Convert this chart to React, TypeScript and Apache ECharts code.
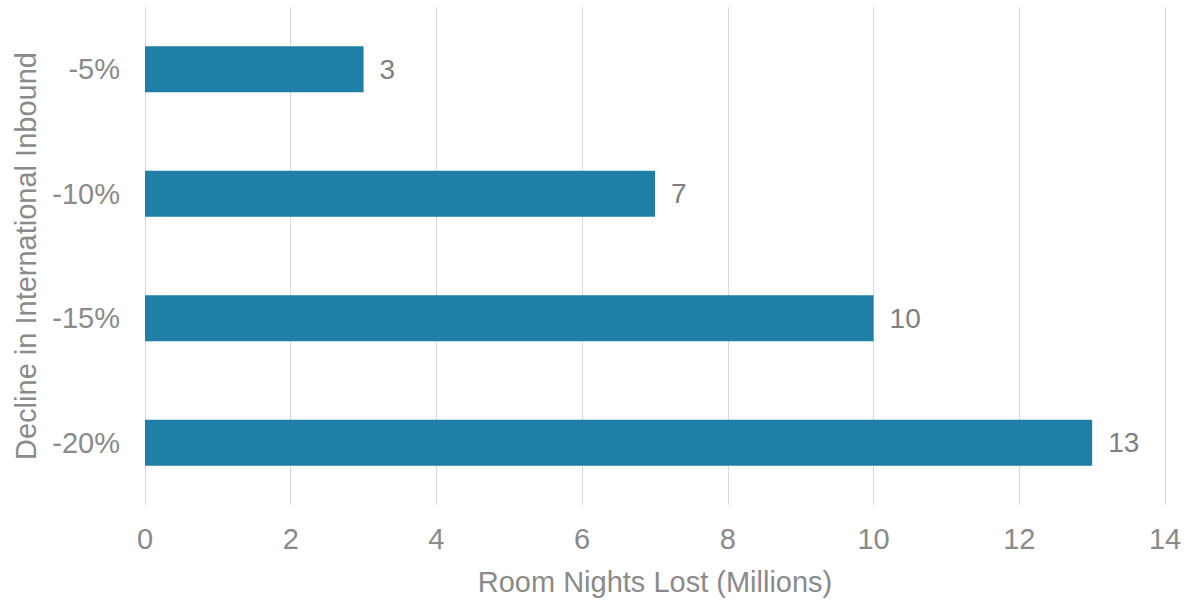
import React, { useEffect, useRef } from "react";
import * as echarts from "echarts";

const categories = ["-5%", "-10%", "-15%", "-20%"];
const values = [3, 7, 10, 13];
const xTicks = { min: 0, max: 14, interval: 2 };

export default function App() {
  const ref = useRef<HTMLDivElement>(null);
  useEffect(() => {
    const chart = echarts.init(ref.current!, null, { renderer: "svg" });
    const font = "Liberation Sans, Arial, sans-serif";
    chart.setOption({
      animation: false,
      grid: { left: 145, right: 26, top: 7, bottom: 94 },
      xAxis: {
        type: "value",
        min: xTicks.min,
        max: xTicks.max,
        interval: xTicks.interval,
        name: "Room Nights Lost (Millions)",
        nameLocation: "middle",
        nameGap: 62,
        nameTextStyle: { color: "#8a8a8a", fontSize: 29, fontFamily: font },
        axisLine: { show: false },
        axisTick: { show: false },
        axisLabel: { color: "#8a8a8a", fontSize: 29, fontFamily: font, margin: 19 },
        splitLine: { lineStyle: { color: "#d9d9d9", width: 1 } },
      },
      yAxis: {
        type: "category",
        data: categories,
        inverse: true,
        name: "Decline in International Inbound",
        nameLocation: "middle",
        nameGap: 105,
        nameTextStyle: { color: "#8a8a8a", fontSize: 29, fontFamily: font },
        axisLine: { show: false },
        axisTick: { show: false },
        axisLabel: { color: "#8a8a8a", fontSize: 29, fontFamily: font, margin: 25 },
      },
      series: [
        {
          type: "bar",
          data: values,
          barWidth: "37%",
          itemStyle: { color: "#1f7fa6" },
          label: {
            show: true,
            position: "right",
            distance: 16,
            color: "#7f7f7f",
            fontSize: 28,
            fontFamily: font,
          },
        },
      ],
    });
    return () => chart.dispose();
  }, []);
  return (
    <div
      ref={ref}
      style={{ position: "absolute", left: 0, top: 0, width: 1191, height: 601, overflow: "hidden" }}
    />
  );
}
